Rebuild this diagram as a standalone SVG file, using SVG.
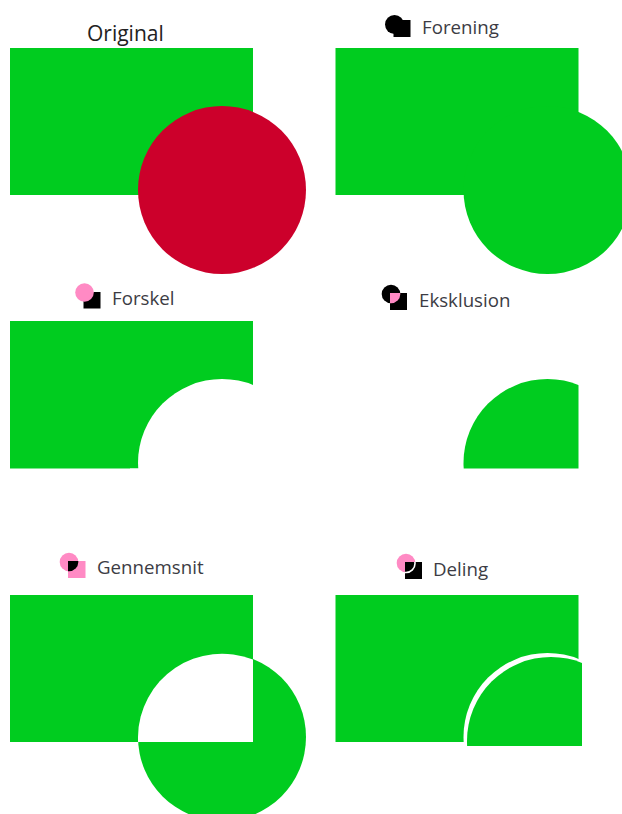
<svg xmlns="http://www.w3.org/2000/svg" width="622" height="814" viewBox="0 0 622 814">
<style>
.g{fill:#00cc1f}
.w{fill:#fff}
.k{fill:#000}
.p{fill:#ff8ac4}
.t{font-family:"Open Sans","Noto Sans","Liberation Sans",sans-serif;font-size:18.700px;fill:#3c3c44}
</style>
<defs>
<clipPath id="c4"><rect x="335.500" y="321" width="243" height="147.500"/></clipPath>
<clipPath id="c6"><rect x="339" y="599" width="243" height="147"/></clipPath>
<clipPath id="i4"><rect x="390" y="293" width="17" height="17"/></clipPath>
<clipPath id="i5"><rect x="68" y="561" width="17.500" height="17"/></clipPath>
<clipPath id="i6"><rect x="405" y="562" width="17" height="17"/></clipPath>
</defs>
<rect width="622" height="814" fill="#fff"/>
<g id="original">
<rect class="g" x="10" y="48" width="243" height="147"/>
<circle cx="222" cy="190" r="84" fill="#cc002b"/>
<text class="t" x="87" y="41" style="font-size:21px;fill:#222">Original</text>
</g>
<g id="forening">
<rect class="g" x="335.500" y="48" width="243" height="147"/>
<circle class="g" cx="547.500" cy="190" r="84"/>
<circle class="k" cx="394.500" cy="24.500" r="9.500"/>
<rect class="k" x="393.500" y="20" width="17" height="17"/>
<text class="t" x="422" y="34">Forening</text>
</g>
<g id="forskel">
<rect class="g" x="10" y="321" width="243" height="147.500"/>
<circle class="w" cx="222" cy="463" r="84"/>
<rect class="w" x="253" y="321" width="60" height="230"/>
<path class="w" d="M130 468.500H253V551H130Z"/>
<rect class="k" x="83.500" y="292" width="17" height="16.500"/>
<circle class="p" cx="84.500" cy="292.500" r="9.300"/>
<text class="t" x="112" y="305">Forskel</text>
</g>
<g id="eksklusion">
<circle class="g" cx="547.500" cy="463" r="84" clip-path="url(#c4)"/>
<rect class="k" x="390" y="293" width="17" height="17"/>
<circle class="k" cx="391" cy="294" r="9.300"/>
<circle class="p" cx="391" cy="294" r="9.300" clip-path="url(#i4)"/>
<text class="t" x="419" y="307">Eksklusion</text>
</g>
<g id="gennemsnit">
<rect class="g" x="10" y="595" width="243" height="147"/>
<circle class="g" cx="222" cy="737" r="84"/>
<path class="w" d="M138 742H253V659.600A84 84 0 0 0 138 737Z"/>
<rect class="p" x="68" y="561" width="17.500" height="17"/>
<circle class="p" cx="69" cy="562" r="9.300"/>
<circle class="k" cx="69" cy="562" r="9.300" clip-path="url(#i5)"/>
<text class="t" x="97" y="574">Gennemsnit</text>
</g>
<g id="deling">
<rect class="g" x="335.500" y="595" width="243" height="147"/>
<circle class="w" cx="547.500" cy="737" r="84" clip-path="url(#c6)"/>
<circle class="g" cx="551" cy="741" r="84" clip-path="url(#c6)"/>
<circle class="p" cx="406" cy="563" r="9.300"/>
<rect class="k" x="405" y="562" width="17" height="17"/>
<circle cx="406" cy="563.500" r="9" clip-path="url(#i6)" style="fill:none;stroke:#fff;stroke-width:1.600"/>
<text class="t" x="433" y="576">Deling</text>
</g>
</svg>
